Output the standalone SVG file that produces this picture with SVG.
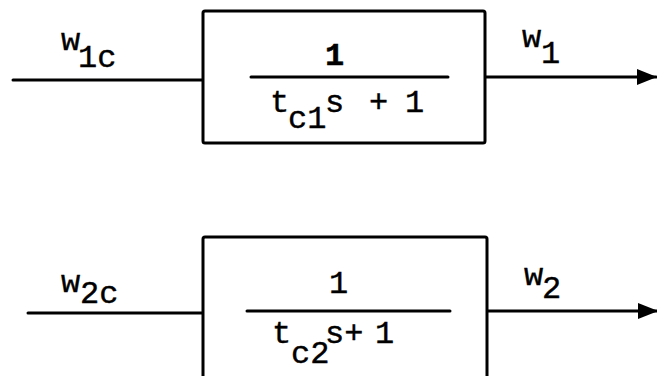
<svg xmlns="http://www.w3.org/2000/svg" width="657" height="376" viewBox="0 0 657 376">
  <style>
    .ln { stroke: #000; stroke-width: 3; fill: none; stroke-linecap: round; }
    .box { stroke: #000; stroke-width: 3; fill: #fff; }
    .t { font-family: "Liberation Mono", "Courier New", monospace; font-size: 32px; fill: #000; stroke: #000; stroke-width: 0.4; }
    .b { font-weight: bold; stroke-width: 0.5; }
  </style>
  <defs>
    <marker id="arrow" viewBox="0 0 20 18" refX="19" refY="9" markerWidth="20" markerHeight="18" markerUnits="userSpaceOnUse" orient="auto">
      <path d="M0,1 L20,9 L0,17 Z" fill="#000"/>
    </marker>
  </defs>

  <rect width="657" height="376" fill="#fff"/>

  <!-- signal lines -->
  <g id="connectors">
    <line class="ln" x1="13" y1="80" x2="203" y2="80"/>
    <line class="ln" x1="485" y1="77" x2="656" y2="77" marker-end="url(#arrow)"/>
    <line class="ln" x1="28" y1="313" x2="203" y2="313"/>
    <line class="ln" x1="487" y1="311" x2="657" y2="311" marker-end="url(#arrow)"/>
  </g>

  <!-- first-order lag, channel 1 -->
  <g id="block1">
    <rect class="box" x="203" y="11" width="282" height="132" rx="2"/>
    <text class="t b" x="325" y="65">1</text>
    <line class="ln" x1="251" y1="77" x2="448" y2="77"/>
    <text class="t" x="270" y="112">t</text>
    <text class="t" x="288" y="128">c1</text>
    <text class="t" x="325" y="112">s</text>
    <text class="t" x="369" y="112">+</text>
    <text class="t" x="405" y="112">1</text>
  </g>

  <!-- first-order lag, channel 2 -->
  <g id="block2">
    <rect class="box" x="203" y="237" width="284" height="160" rx="2"/>
    <text class="t" x="329" y="293">1</text>
    <line class="ln" x1="247" y1="311" x2="450" y2="311"/>
    <text class="t" x="272" y="343">t</text>
    <text class="t" x="291" y="363">c2</text>
    <text class="t" x="325" y="343">s+</text>
    <text class="t" x="375" y="343">1</text>
  </g>

  <!-- signal labels -->
  <g id="labels">
    <text class="t" x="61" y="50">w</text>
    <text class="t" x="78" y="67">1c</text>
    <text class="t" x="522" y="47">w</text>
    <text class="t" x="541" y="63">1</text>
    <text class="t" x="61" y="292">w</text>
    <text class="t" x="80" y="303">2c</text>
    <text class="t" x="524" y="285">w</text>
    <text class="t" x="542" y="298">2</text>
  </g>
</svg>
